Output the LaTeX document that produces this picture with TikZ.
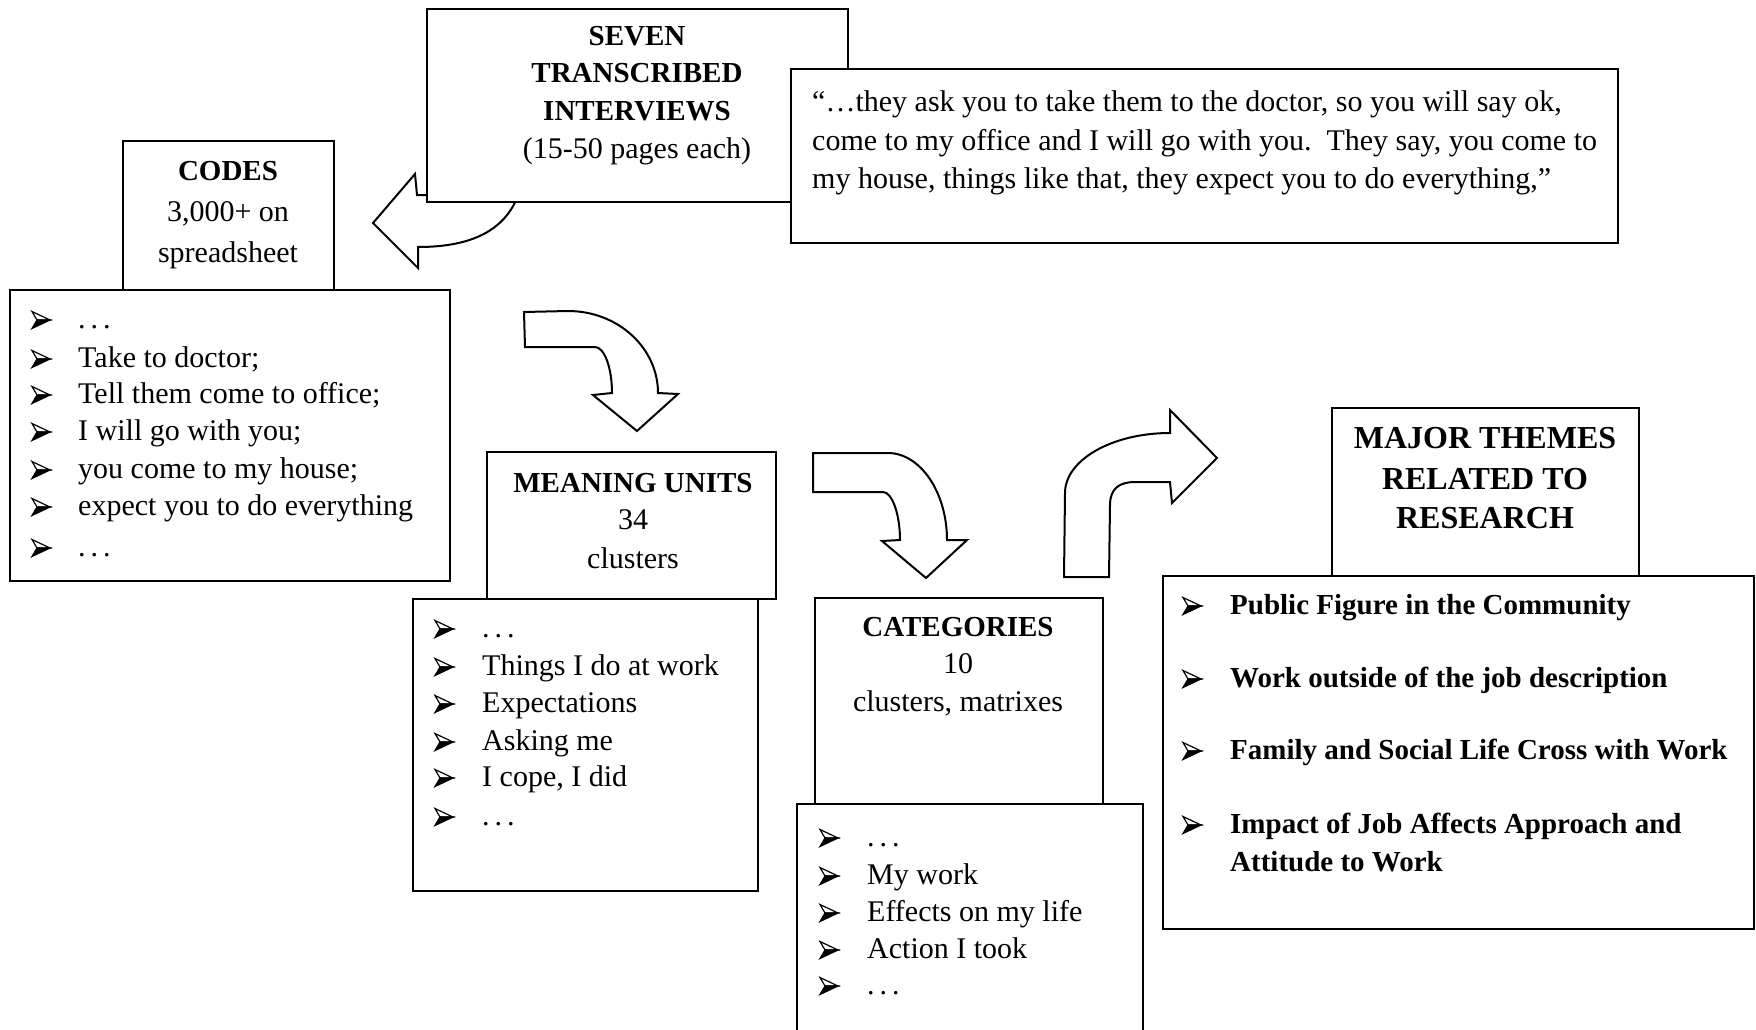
\documentclass[tikz,border=0pt]{standalone}
\usepackage{fontspec}
\setmainfont{Liberation Serif}
\newcommand\fs[1]{\fontsize{#1}{#1}\selectfont}
\begin{document}
\begin{tikzpicture}[x=1pt,y=-1pt,
  box/.style={draw, line width=2pt, fill=white, inner sep=0pt, outer sep=0pt, rectangle},
  bigarrow/.style={draw, line width=2pt, fill=white, line join=miter},
  hd/.style={anchor=base, inner sep=0pt, font=\fs{29}\bfseries},
  bighd/.style={anchor=base, inner sep=0pt, font=\fs{32}\bfseries},
  tx/.style={anchor=base, inner sep=0pt, font=\fs{30}},
  li/.style={anchor=base west, inner sep=0pt, font=\fs{30}},
  th/.style={anchor=base west, inner sep=0pt, font=\fs{29}\bfseries},
  pics/arrbul/.style={code={
     \filldraw[fill=white, line width=1.2pt, line join=miter] (0,-8.5) -- (18,0) -- (5,0) -- cycle;
     \filldraw[fill=black, line width=1.2pt, line join=miter] (5,0) -- (18,0) -- (0,8.5) -- cycle;}}
]
\useasboundingbox[fill=white] (0,0) rectangle (1756,1030);

% arrow: interviews -> codes
\draw[bigarrow] (373,223) -- (415,174) -- (417,195) -- (470,195) -- (470,120) -- (525,120) -- (525,160)
  .. controls (522,225) and (480,247) .. (418,247) -- (418,268) -- cycle;

% SEVEN TRANSCRIBED INTERVIEWS
\node[box, minimum width=421pt, minimum height=193pt] (seven) at (637.5,105.5) {};
\node[hd] (s1) at (637,46) {SEVEN};
\node[hd] (s2) at (637,83) {TRANSCRIBED};
\node[hd] (s3) at (637,121) {INTERVIEWS};
\node[tx] (s4) at (637,159) {(15-50 pages each)};

% quote
\node[box, minimum width=827pt, minimum height=174pt] (quote) at (1204.5,156) {};
\node[li] (q1) at (812,112) {“…they ask you to take them to the doctor, so you will say ok,};
\node[li] (q2) at (812,150) {come to my office and I will go with you.\ \ They say, you come to};
\node[li] (q3) at (812,188) {my house, things like that, they expect you to do everything,”};

% CODES
\node[box, minimum width=211pt, minimum height=149pt] (codes) at (228.5,215.5) {};
\node[hd] (c1) at (228,180) {CODES};
\node[tx] (c2) at (228,221) {3,000+ on};
\node[tx] (c3) at (228,262) {spreadsheet};

\node[box, minimum width=440pt, minimum height=291pt] (codeslist) at (230,435.5) {};
\foreach \y/\t [count=\i] in {328/{.\,.\,.}, 367/{Take to doctor;}, 403/{Tell them come to office;},
   440/{I will go with you;}, 478/{you come to my house;}, 515/{expect you to do everything}, 556/{.\,.\,.}}{
  \pic at (32,\y-8) {arrbul};
  \node[li] (cl\i) at (78,\y) {\t};
}

% arrow: codes -> meaning units
\draw[bigarrow] (524,312) -- (568,311) .. controls (618,311) and (658,348) .. (658,393)
  -- (678,394) -- (637,431) -- (593,395) -- (612,393) .. controls (612,367) and (604,347) .. (595,347)
  -- (525,347) -- cycle;

% MEANING UNITS
\node[box, minimum width=289pt, minimum height=147pt] (mu) at (631.5,525.5) {};
\node[hd] (m1) at (633,492) {MEANING UNITS};
\node[tx] (m2) at (633,529) {34};
\node[tx] (m3) at (633,568) {clusters};

\node[box, minimum width=345pt, minimum height=292pt] (mulist) at (585.5,745) {};
\foreach \y/\t [count=\i] in {637/{.\,.\,.}, 675/{Things I do at work}, 712/{Expectations},
   750/{Asking me}, 786/{I cope, I did}, 825/{.\,.\,.}}{
  \pic at (435,\y-8) {arrbul};
  \node[li] (ml\i) at (482,\y) {\t};
}

% arrow: meaning units -> categories
\draw[bigarrow] (813,453) -- (888,453) .. controls (920,453) and (947,492) .. (947,540)
  -- (967,540) -- (926,578) -- (882,541) -- (900,540) .. controls (900,514) and (892,492) .. (883,492)
  -- (813,492) -- cycle;

% CATEGORIES
\node[box, minimum width=288pt, minimum height=206pt] (cat) at (959,701) {};
\node[hd] (k1) at (958,636) {CATEGORIES};
\node[tx] (k2) at (958,673) {10};
\node[tx] (k3) at (958,711) {clusters, matrixes};

\node[box, minimum width=346pt, minimum height=240pt] (catlist) at (970,924) {};
\foreach \y/\t [count=\i] in {846/{.\,.\,.}, 884/{My work}, 921/{Effects on my life},
   958/{Action I took}, 994/{.\,.\,.}}{
  \pic at (820,\y-8) {arrbul};
  \node[li] (kl\i) at (867,\y) {\t};
}

% arrow: categories -> major themes
\draw[bigarrow] (1064,577) -- (1065,493) .. controls (1065,460) and (1112,433) .. (1170,433)
  -- (1170,410) -- (1217,458) -- (1172,503) -- (1170,482) -- (1135,482)
  .. controls (1120,482) and (1110,488) .. (1110,505) -- (1109,577) -- cycle;

% MAJOR THEMES
\node[box, minimum width=307pt, minimum height=168pt] (major) at (1485.5,492) {};
\node[bighd] (j1) at (1485,448) {MAJOR THEMES};
\node[bighd] (j2) at (1485,489) {RELATED TO};
\node[bighd] (j3) at (1485,528) {RESEARCH};

\node[box, minimum width=591pt, minimum height=353pt] (themes) at (1458.5,752.5) {};
\foreach \y/\t [count=\i] in {614/{Public Figure in the Community}, 687/{Work outside of the job description},
   759/{Family and Social Life Cross with Work}, 833/{Impact of Job Affects Approach and}}{
  \pic at (1183,\y-8) {arrbul};
  \node[th] (tl\i) at (1230,\y) {\t};
}
\node[th] (tl5) at (1230,871) {Attitude to Work};
\end{tikzpicture}
\end{document}
